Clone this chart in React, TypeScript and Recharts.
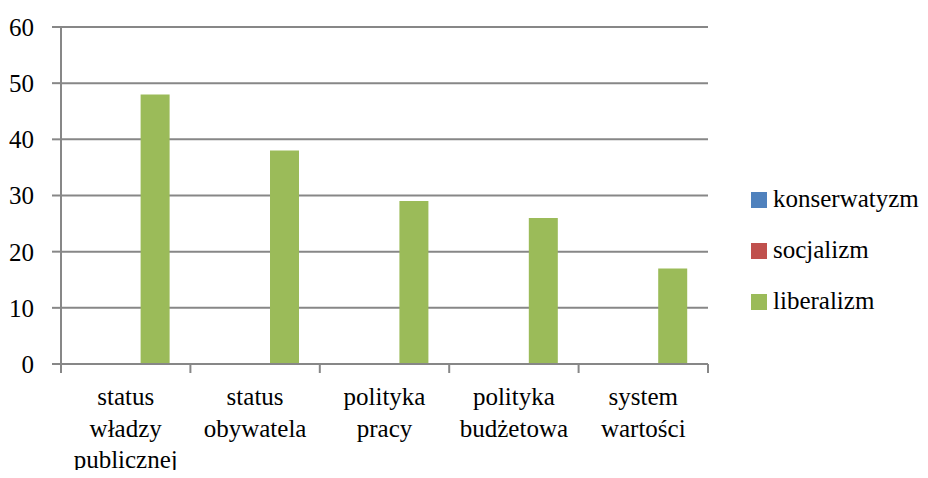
import React from "react";
import { BarChart, Bar, XAxis, YAxis, CartesianGrid } from "recharts";

const categories = [
  ["status", "władzy", "publicznej"],
  ["status", "obywatela"],
  ["polityka", "pracy"],
  ["polityka", "budżetowa"],
  ["system", "wartości"],
];
const konserwatyzm = [0, 0, 0, 0, 0];
const socjalizm = [0, 0, 0, 0, 0];
const liberalizm = [48, 38, 29, 26, 17];
const yTicks = [0, 10, 20, 30, 40, 50, 60];

const seriesList = [
  { key: "konserwatyzm", color: "#4f81bd" },
  { key: "socjalizm", color: "#c0504d" },
  { key: "liberalizm", color: "#9bbb59" },
];

const data = categories.map((lines, i) => ({
  name: lines.join(" "),
  lines,
  konserwatyzm: konserwatyzm[i],
  socjalizm: socjalizm[i],
  liberalizm: liberalizm[i],
}));

const W = 928;
const H = 478;
const margin = { top: 27, right: 220, bottom: 0, left: 0 };
const yAxisWidth = 61;
const xAxisHeight = 114;
const FONT = "Liberation Serif, DejaVu Serif, serif";
const FS = 25;
const GRID = "#878787";

const bandWidth = (W - margin.left - margin.right - yAxisWidth) / categories.length;

const XTick = (props: any) => {
  const { x, y, index } = props;
  const item = data[index];
  const half = bandWidth / 2;
  return (
    <g>
      <line x1={x - half} y1={y - 8} x2={x - half} y2={y + 1} stroke={GRID} strokeWidth={2} />
      {index === categories.length - 1 && (
        <line x1={x + half} y1={y - 8} x2={x + half} y2={y + 1} stroke={GRID} strokeWidth={2} />
      )}
      <text textAnchor="middle" fontFamily={FONT} fontSize={FS} fill="#000">
        {item.lines.map((l: string, i: number) => (
          <tspan key={i} x={x} y={y + 33 + i * 31.5}>
            {l}
          </tspan>
        ))}
      </text>
    </g>
  );
};

const ChartLegend = () => (
  <div
    style={{
      position: "absolute",
      left: 751,
      top: 173,
      fontFamily: FONT,
      fontSize: FS,
      color: "#000",
    }}
  >
    {seriesList.map((s) => (
      <div key={s.key} style={{ display: "flex", alignItems: "center", height: 51 }}>
        <span
          style={{
            display: "inline-block",
            width: 16,
            height: 16,
            background: s.color,
            marginRight: 6,
            marginTop: 3,
          }}
        />
        <span>{s.key}</span>
      </div>
    ))}
  </div>
);

export default function App() {
  return (
    <div style={{ position: "relative", margin: -8, width: W, height: H, background: "#fff" }}>
      <BarChart
        width={W}
        height={H}
        data={data}
        margin={margin}
        barCategoryGap="16.7%"
        barGap={0}
      >
        <CartesianGrid vertical={false} stroke={GRID} strokeWidth={2} />
        <XAxis
          dataKey="name"
          tick={<XTick />}
          tickLine={false}
          axisLine={{ stroke: GRID, strokeWidth: 2 }}
          interval={0}
          height={xAxisHeight}
        />
        <YAxis
          domain={[0, 60]}
          ticks={yTicks}
          width={yAxisWidth}
          tickSize={9}
          tickMargin={18}
          tickLine={{ stroke: GRID, strokeWidth: 2 }}
          axisLine={{ stroke: GRID, strokeWidth: 2 }}
          tick={{ fill: "#000", fontSize: FS, fontFamily: FONT }}
          interval={0}
        />
        {seriesList.map((s) => (
          <Bar key={s.key} dataKey={s.key} fill={s.color} isAnimationActive={false} />
        ))}
      </BarChart>
      <ChartLegend />
    </div>
  );
}
